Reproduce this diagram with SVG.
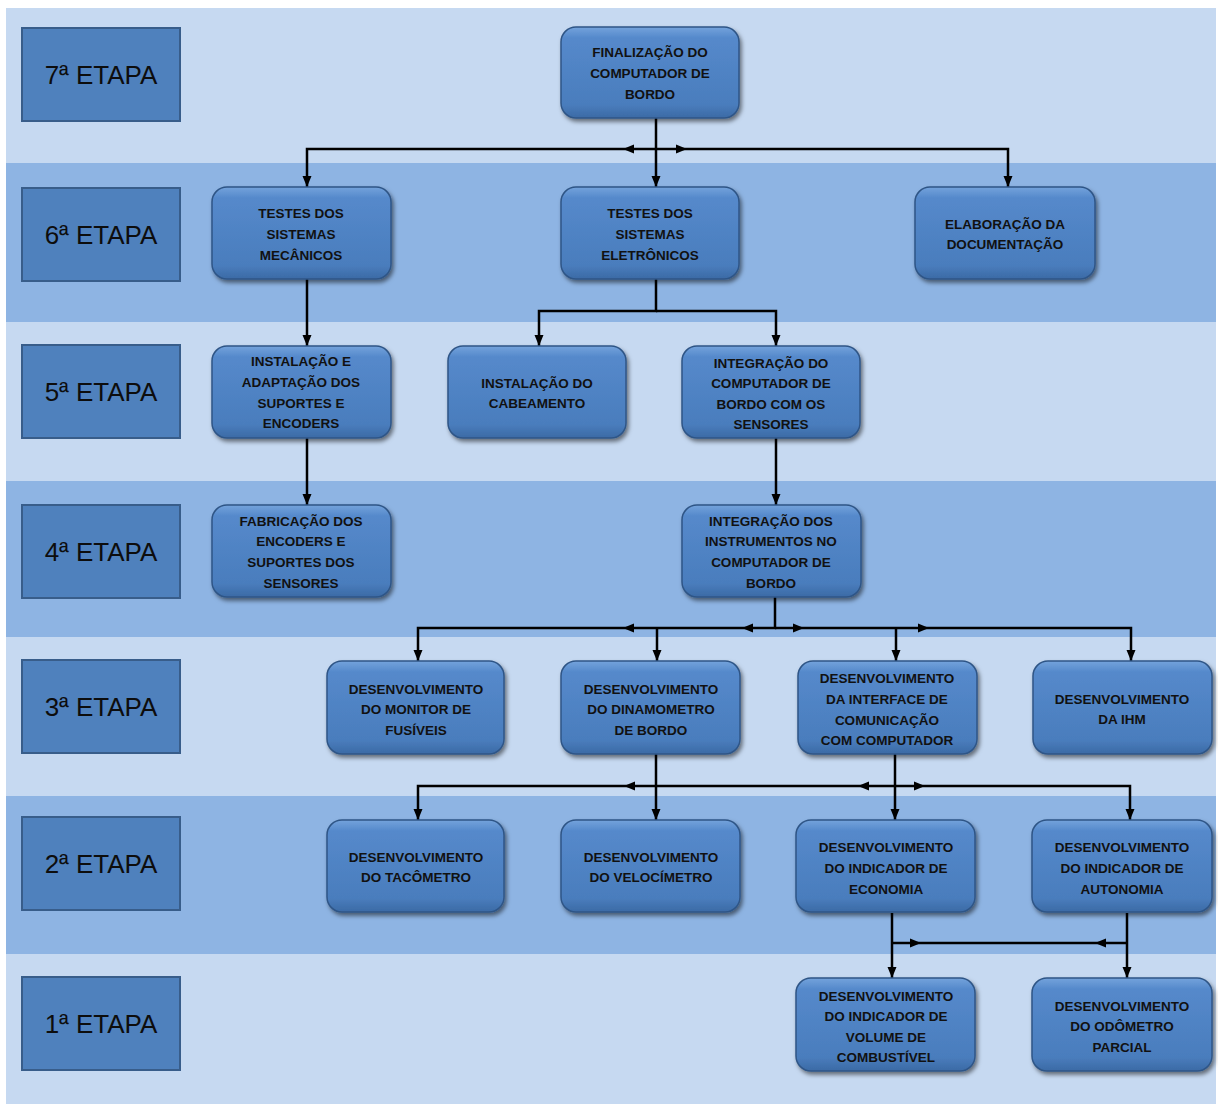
<svg xmlns="http://www.w3.org/2000/svg" width="1218" height="1104" viewBox="0 0 1218 1104">
<style>
.bl{fill:#c6d9f1}
.bd{fill:#8eb4e3}
.stage rect{fill:#4f81bd;stroke:#385d8a;stroke-width:2}
.stage text{font-family:"Liberation Sans",Arial,sans-serif;font-size:26px;fill:#0d0d0d;text-anchor:middle}
.node rect{fill:url(#ng);stroke:#2f5586;stroke-width:1.5;filter:url(#sh)}
.node text{font-family:"Liberation Sans",Arial,sans-serif;font-weight:bold;font-size:13.5px;fill:#111;text-anchor:middle}
.conn path{fill:none;stroke:#000;stroke-width:2.5}
.conn path.a{marker-end:url(#ar)}
</style>
<defs>
<linearGradient id="ng" x1="0" y1="0" x2="0" y2="1">
<stop offset="0" stop-color="#74a3dc"/>
<stop offset="0.12" stop-color="#5589cb"/>
<stop offset="0.85" stop-color="#4a7dbd"/>
<stop offset="1" stop-color="#3b6aa5"/>
</linearGradient>
<filter id="sh" x="-10%" y="-10%" width="125%" height="130%">
<feDropShadow dx="2" dy="3" stdDeviation="2" flood-color="#000" flood-opacity="0.5"/>
</filter>
<marker id="ar" markerUnits="userSpaceOnUse" markerWidth="12" markerHeight="10" refX="11" refY="5" orient="auto">
<path d="M0,0.5 L11,5 L0,9.5 z" fill="#000"/>
</marker>
</defs>
<rect x="0" y="0" width="1218" height="1104" fill="#fff"/>
<g id="bands">
<rect class="bl" x="6" y="8" width="1210" height="155"/>
<rect class="bd" x="6" y="163" width="1210" height="159"/>
<rect class="bl" x="6" y="322" width="1210" height="159"/>
<rect class="bd" x="6" y="481" width="1210" height="156"/>
<rect class="bl" x="6" y="637" width="1210" height="159"/>
<rect class="bd" x="6" y="796" width="1210" height="158"/>
<rect class="bl" x="6" y="954" width="1210" height="150"/>
</g>
<g id="stage7" class="stage"><rect x="22" y="28" width="158" height="93"/><text x="101" y="84">7ª ETAPA</text></g>
<g id="stage6" class="stage"><rect x="22" y="188" width="158" height="93"/><text x="101" y="244">6ª ETAPA</text></g>
<g id="stage5" class="stage"><rect x="22" y="345" width="158" height="93"/><text x="101" y="401">5ª ETAPA</text></g>
<g id="stage4" class="stage"><rect x="22" y="505" width="158" height="93"/><text x="101" y="561">4ª ETAPA</text></g>
<g id="stage3" class="stage"><rect x="22" y="660" width="158" height="93"/><text x="101" y="716">3ª ETAPA</text></g>
<g id="stage2" class="stage"><rect x="22" y="817" width="158" height="93"/><text x="101" y="873">2ª ETAPA</text></g>
<g id="stage1" class="stage"><rect x="22" y="977" width="158" height="93"/><text x="101" y="1033">1ª ETAPA</text></g>

<g id="connectors" class="conn">
<path class="a" d="M656,118 V187"/>
<path class="a" d="M656,149 H623"/>
<path class="a" d="M623,149 H307 V187"/>
<path class="a" d="M656,149 H687"/>
<path class="a" d="M687,149 H1008 V187"/>
<path class="a" d="M656,279 V311 H539 V346"/>
<path class="a" d="M656,311 H776 V346"/>
<path class="a" d="M307,279 V346"/>
<path class="a" d="M307,438 V505"/>
<path class="a" d="M776,438 V505"/>
<path class="a" d="M775,597 V628 H742"/>
<path class="a" d="M742,628 H623"/>
<path class="a" d="M623,628 H418 V661"/>
<path class="a" d="M657,628 V661"/>
<path class="a" d="M775,628 H804"/>
<path class="a" d="M804,628 H929"/>
<path class="a" d="M929,628 H1131 V661"/>
<path class="a" d="M896,628 V661"/>
<path class="a" d="M656,754 V820"/>
<path class="a" d="M895,754 V820"/>
<path class="a" d="M656,786 H624"/>
<path class="a" d="M624,786 H418 V820"/>
<path d="M858,786 H656"/>
<path class="a" d="M895,786 H858"/>
<path class="a" d="M895,786 H925"/>
<path class="a" d="M925,786 H1130 V820"/>
<path class="a" d="M892,913 V978"/>
<path class="a" d="M1127,913 V978"/>
<path class="a" d="M892,943 H921"/>
<path d="M921,943 H1095"/>
<path class="a" d="M1127,943 H1095"/>
</g>

<g id="n-final" class="node"><rect x="561" y="27" width="178" height="91" rx="15"/>
<text x="650" y="57">FINALIZAÇÃO  DO</text><text x="650" y="78">COMPUTADOR  DE</text><text x="650" y="99">BORDO</text></g>

<g id="n-testes-mec" class="node"><rect x="212" y="187" width="179" height="92" rx="15"/>
<text x="301" y="218">TESTES DOS</text><text x="301" y="239">SISTEMAS</text><text x="301" y="260">MECÂNICOS</text></g>
<g id="n-testes-ele" class="node"><rect x="561" y="187" width="178" height="92" rx="15"/>
<text x="650" y="218">TESTES DOS</text><text x="650" y="239">SISTEMAS</text><text x="650" y="260">ELETRÔNICOS</text></g>
<g id="n-elaboracao" class="node"><rect x="915" y="187" width="180" height="92" rx="15"/>
<text x="1005" y="229">ELABORAÇÃO  DA</text><text x="1005" y="249">DOCUMENTAÇÃO</text></g>

<g id="n-instalacao-sup" class="node"><rect x="212" y="346" width="179" height="92" rx="15"/>
<text x="301" y="366">INSTALAÇÃO  E</text><text x="301" y="387">ADAPTAÇÃO  DOS</text><text x="301" y="408">SUPORTES E</text><text x="301" y="428">ENCODERS</text></g>
<g id="n-cabeamento" class="node"><rect x="448" y="346" width="178" height="92" rx="15"/>
<text x="537" y="388">INSTALAÇÃO  DO</text><text x="537" y="408">CABEAMENTO</text></g>
<g id="n-integracao-comp" class="node"><rect x="682" y="346" width="178" height="92" rx="15"/>
<text x="771" y="368">INTEGRAÇÃO  DO</text><text x="771" y="388">COMPUTADOR DE</text><text x="771" y="409">BORDO COM  OS</text><text x="771" y="429">SENSORES</text></g>

<g id="n-fabricacao" class="node"><rect x="212" y="505" width="179" height="92" rx="15"/>
<text x="301" y="526">FABRICAÇÃO  DOS</text><text x="301" y="546">ENCODERS E</text><text x="301" y="567">SUPORTES DOS</text><text x="301" y="588">SENSORES</text></g>
<g id="n-integracao-inst" class="node"><rect x="682" y="505" width="179" height="92" rx="15"/>
<text x="771" y="526">INTEGRAÇÃO  DOS</text><text x="771" y="546">INSTRUMENTOS  NO</text><text x="771" y="567">COMPUTADOR  DE</text><text x="771" y="588">BORDO</text></g>

<g id="n-monitor" class="node"><rect x="327" y="661" width="177" height="93" rx="15"/>
<text x="416" y="694">DESENVOLVIMENTO</text><text x="416" y="714">DO MONITOR  DE</text><text x="416" y="735">FUSÍVEIS</text></g>
<g id="n-dinamometro" class="node"><rect x="561" y="661" width="179" height="93" rx="15"/>
<text x="651" y="694">DESENVOLVIMENTO</text><text x="651" y="714">DO DINAMOMETRO</text><text x="651" y="735">DE BORDO</text></g>
<g id="n-interface" class="node"><rect x="798" y="661" width="179" height="93" rx="15"/>
<text x="887" y="683">DESENVOLVIMENTO</text><text x="887" y="704">DA INTERFACE  DE</text><text x="887" y="725">COMUNICAÇÃO</text><text x="887" y="745">COM COMPUTADOR</text></g>
<g id="n-ihm" class="node"><rect x="1033" y="661" width="179" height="93" rx="15"/>
<text x="1122" y="704">DESENVOLVIMENTO</text><text x="1122" y="724">DA IHM</text></g>

<g id="n-tacometro" class="node"><rect x="327" y="820" width="177" height="92" rx="15"/>
<text x="416" y="862">DESENVOLVIMENTO</text><text x="416" y="882">DO TACÔMETRO</text></g>
<g id="n-velocimetro" class="node"><rect x="561" y="820" width="179" height="92" rx="15"/>
<text x="651" y="862">DESENVOLVIMENTO</text><text x="651" y="882">DO VELOCÍMETRO</text></g>
<g id="n-economia" class="node"><rect x="796" y="820" width="179" height="92" rx="15"/>
<text x="886" y="852">DESENVOLVIMENTO</text><text x="886" y="873">DO INDICADOR  DE</text><text x="886" y="894">ECONOMIA</text></g>
<g id="n-autonomia" class="node"><rect x="1032" y="820" width="180" height="92" rx="15"/>
<text x="1122" y="852">DESENVOLVIMENTO</text><text x="1122" y="873">DO INDICADOR  DE</text><text x="1122" y="894">AUTONOMIA</text></g>

<g id="n-volume" class="node"><rect x="796" y="978" width="179" height="93" rx="15"/>
<text x="886" y="1001">DESENVOLVIMENTO</text><text x="886" y="1021">DO INDICADOR  DE</text><text x="886" y="1042">VOLUME DE</text><text x="886" y="1062">COMBUSTÍVEL</text></g>
<g id="n-odometro" class="node"><rect x="1032" y="978" width="180" height="93" rx="15"/>
<text x="1122" y="1011">DESENVOLVIMENTO</text><text x="1122" y="1031">DO ODÔMETRO</text><text x="1122" y="1052">PARCIAL</text></g>
</svg>
